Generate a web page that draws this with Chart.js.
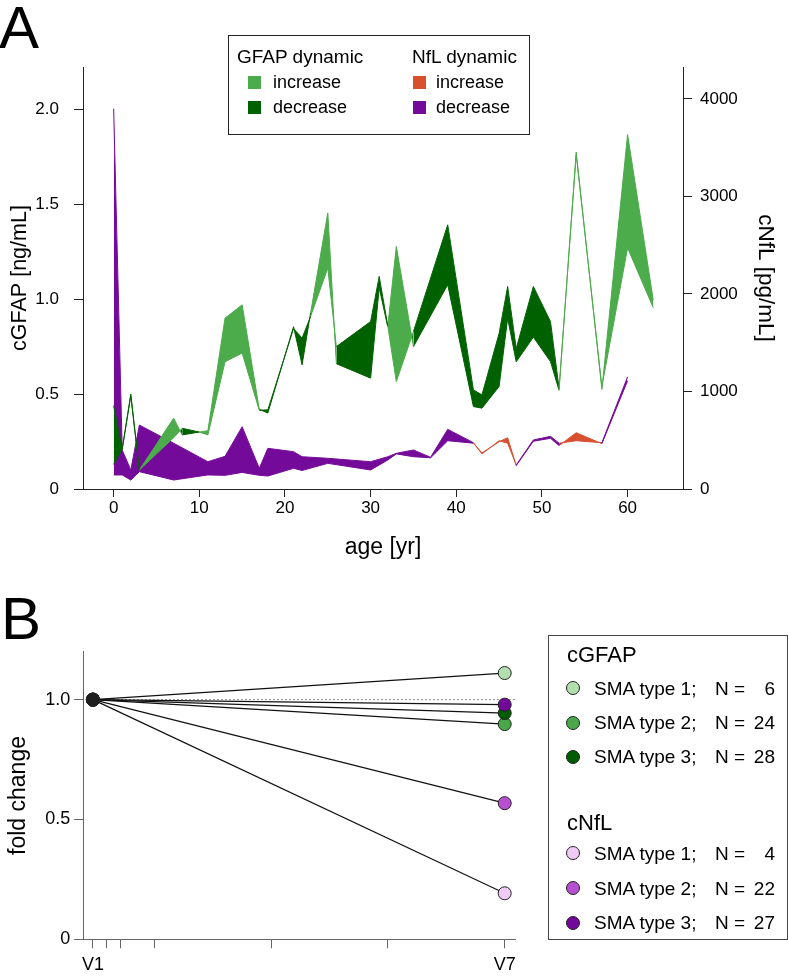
<!DOCTYPE html>
<html><head><meta charset="utf-8">
<script src="https://cdn.jsdelivr.net/npm/chart.js@4/dist/chart.umd.min.js"></script>
<style>
body{margin:0;background:#fff;}
#wrap{position:relative;width:788px;height:976px;font-family:"Liberation Sans",Arial,sans-serif;color:#000;overflow:hidden;background:#fff;}
.abs{position:absolute;white-space:nowrap;}
.t18{font-size:18px;line-height:20px;}
.t19{font-size:19px;line-height:20px;}
.t22{font-size:22px;line-height:24px;}
.sw{position:absolute;width:13px;height:13px;}
.dot{position:absolute;width:12px;height:12px;border-radius:50%;border:1px solid #222;}
</style></head><body><div id="wrap">
<canvas id="cA" width="788" height="590" style="position:absolute;left:0;top:0"></canvas>
<canvas id="cB" width="788" height="386" style="position:absolute;left:0;top:590px"></canvas>

<div class="abs" style="left:-1px;top:-2px;font-size:60px;line-height:60px;">A</div>
<div class="abs" style="left:1px;top:589px;font-size:60px;line-height:60px;">B</div>

<div class="abs" style="left:228px;top:35px;width:300px;height:98px;border:1px solid #222;"></div>
<div class="abs t19" style="left:237px;top:47px">GFAP dynamic</div>
<div class="sw" style="left:248px;top:76px;background:#4cab4a"></div>
<div class="abs t18" style="left:273px;top:72px">increase</div>
<div class="sw" style="left:248px;top:101px;background:#006100"></div>
<div class="abs t18" style="left:273px;top:97px">decrease</div>
<div class="abs t19" style="left:412px;top:47px">NfL dynamic</div>
<div class="sw" style="left:413px;top:76px;background:#d9502f"></div>
<div class="abs t18" style="left:436px;top:72px">increase</div>
<div class="sw" style="left:413px;top:101px;background:#740a99"></div>
<div class="abs t18" style="left:436px;top:97px">decrease</div>

<div class="abs" style="left:548px;top:635px;width:238px;height:303px;border:1px solid #444;"></div>
<div id="legB"></div>
</div>
<script>
// ---------- Panel A data ----------
const gfapAges = [0,1,2,3,7,8,10,11,13,15,17,18,21,22,23,25,26,30,31,32,33,35,39,42,43,45,46,47,49,51,52,54,57,60,63];
const gfapV1 = [0.44,0.21,0.50,0.10,0.27,0.32,0.30,0.285,0.67,0.716,0.415,0.417,0.845,0.795,0.91,1.164,0.75,0.882,1.12,0.86,0.566,0.83,1.392,0.522,0.496,0.82,1.067,0.74,1.067,0.882,0.53,1.76,0.54,1.27,0.955];
const gfapV7 = [0.13,0.21,0.49,0.10,0.373,0.285,0.30,0.307,0.90,0.97,0.42,0.40,0.855,0.654,0.93,1.454,0.66,0.584,1.06,0.855,1.278,0.75,1.076,0.434,0.426,0.54,0.90,0.67,0.80,0.671,0.52,1.775,0.525,1.867,0.995];
const nflAges = [0,1,2,3,7,11,13,15,17,18,21,22,25,30,32,33,35,37,39,42,43,45,46,47,49,51,52,54,57,60];
const nflV1 = [3900,400,195,656,470,280,335,639,212,417,383,331,315,280,331,366,400,325,612,475,360,495,470,246,503,540,470,495,475,1150];
const nflV7 = [144,144,92,178,92,144,140,170,140,133,212,190,263,195,297,360,331,320,495,470,370,485,526,240,490,520,445,577,465,1110];
const ageTicks = [0,10,20,30,40,50,60];
const gfapTicks = [0,0.5,1,1.5,2];
const gfapTickLabels = ['0','0.5','1.0','1.5','2.0'];
const nflTicks = [0,1000,2000,3000,4000];
const nflTickLabels = ['0','1000','2000','3000','4000'];

// ---------- Panel B data ----------
const visitDays = [0,14,28,63,183,303,423];
const visitLabels = ['V1','','','','','','V7'];
const groupLabels = ['SMA type 1;','SMA type 2;','SMA type 3;','SMA type 1;','SMA type 2;','SMA type 3;'];
const groupN = [6,24,28,4,22,27];
const foldV1 = [1,1,1,1,1,1];
const foldV7 = [1.111,0.898,0.944,0.192,0.568,0.979];
const foldTicks = [0,0.5,1.0];
const foldTickLabels = ['0','0.5','1.0'];

const FONT = '"Liberation Sans", Arial, sans-serif';
Chart.defaults.font.family = FONT;
Chart.defaults.color = '#000';

const cIncG = '#4cab4a', cDecG = '#006100', cIncN = '#d9502f', cDecN = '#740a99';
const groupColors = ['#b3dfae','#4aa84a','#005c00','#efcbf6','#b650d2','#73079a'];

const pts = (xs, ys) => xs.map((x,i)=>({x:x, y:ys[i]}));
const fixTicks = arr => (s => { s.ticks = arr.map(v=>({value:v})); });
const segColor = (v1, v7, inc, dec) => ({
  borderColor: c => ((v7[c.p0DataIndex]+v7[c.p1DataIndex]) >= (v1[c.p0DataIndex]+v1[c.p1DataIndex]) ? inc : dec)
});
const band = (ages, vals, axis, seg, fill) => ({
  data:pts(ages, vals), yAxisID:axis, borderWidth:1, pointRadius:0, segment:seg, fill:fill
});

new Chart(document.getElementById('cA'), {
  type:'line',
  data:{datasets:[
    band(gfapAges, gfapV1, 'y', segColor(gfapV1,gfapV7,cIncG,cDecG), false),
    band(gfapAges, gfapV7, 'y', segColor(gfapV1,gfapV7,cIncG,cDecG), {target:0, above:cIncG, below:cDecG}),
    band(nflAges, nflV1, 'y2', segColor(nflV1,nflV7,cIncN,cDecN), false),
    band(nflAges, nflV7, 'y2', segColor(nflV1,nflV7,cIncN,cDecN), {target:2, above:cIncN, below:cDecN})
  ]},
  options:{
    responsive:false, animation:false, events:[],
    layout:{padding:{top:67,left:0,right:0,bottom:0}},
    plugins:{legend:{display:false}, tooltip:{enabled:false}},
    scales:{
      x:{type:'linear', min:-3.58, max:66.47, afterBuildTicks:fixTicks(ageTicks),
         afterFit:s=>{s.height=101;},
         grid:{drawOnChartArea:false, drawTicks:true, tickLength:8, color:'#222'},
         border:{display:true, color:'#222', width:1},
         ticks:{font:{size:17}, padding:1, maxRotation:0, callback:v=>String(v)},
         title:{display:true, text:'age [yr]', font:{size:23}, padding:{top:0,bottom:28.2}}},
      y:{type:'linear', position:'left', min:0, max:2.223, afterBuildTicks:fixTicks(gfapTicks),
         afterFit:s=>{s.width=83;},
         grid:{drawOnChartArea:false, drawTicks:true, tickLength:9, color:'#222'},
         border:{display:true, color:'#222', width:1},
         ticks:{font:{size:17}, padding:15, callback:v=>gfapTickLabels[gfapTicks.indexOf(v)]},
         title:{display:true, text:'cGFAP [ng/mL]', font:{size:21.5}, padding:{top:7,bottom:0}}},
      y2:{type:'linear', position:'right', min:0, max:4328, afterBuildTicks:fixTicks(nflTicks),
         afterFit:s=>{s.width=105;},
         grid:{drawOnChartArea:false, drawTicks:true, tickLength:9, color:'#222'},
         border:{display:true, color:'#222', width:1},
         ticks:{font:{size:17}, padding:8, callback:v=>nflTickLabels[nflTicks.indexOf(v)]},
         title:{display:true, text:'cNfL [pg/mL]', font:{size:22.5}, padding:{top:9.5,bottom:0}}}
    }
  }
});

const bSets = foldV7.map((v,i)=>({
  data:[{x:visitDays[0], y:foldV1[i]},{x:visitDays[visitDays.length-1], y:v}],
  borderColor:'#111', borderWidth:1.2, pointRadius:6.5, pointBorderWidth:1,
  pointBorderColor:'#222', pointBackgroundColor:['#1e1e1e', groupColors[i]],
  fill:false, order:6-i, clip:false
}));
bSets.push({data:[{x:visitDays[0],y:1},{x:434,y:1}], borderColor:'#8a8a8a', borderWidth:1,
  borderDash:[2,2], pointRadius:0, fill:false, order:20, clip:false});

new Chart(document.getElementById('cB'), {
  type:'line',
  data:{datasets:bSets},
  options:{
    responsive:false, animation:false, events:[],
    layout:{padding:{top:61.7,left:0,right:272.6,bottom:0}},
    plugins:{legend:{display:false}, tooltip:{enabled:false}},
    scales:{
      x:{type:'linear', min:-10, max:434, afterBuildTicks:fixTicks(visitDays),
         afterFit:s=>{s.height=36.7;},
         grid:{drawOnChartArea:false, drawTicks:true, tickLength:9, color:'#666'},
         border:{display:true, color:'#666', width:1},
         ticks:{font:{size:18}, padding:6, maxRotation:0, autoSkip:false, callback:v=>visitLabels[visitDays.indexOf(v)]}},
      y:{type:'linear', min:0, max:1.2, afterBuildTicks:fixTicks(foldTicks),
         afterFit:s=>{s.width=83.2;},
         grid:{drawOnChartArea:false, drawTicks:true, tickLength:9, color:'#666'},
         border:{display:true, color:'#666', width:1},
         ticks:{font:{size:18}, padding:4, callback:v=>foldTickLabels[foldTicks.indexOf(v)]},
         title:{display:true, text:'fold change', font:{size:23}, padding:{top:5.2,bottom:0}}}
    }
  }
});

// ---------- Panel B legend (HTML text) ----------
(function(){
  const leg = document.getElementById('legB');
  const rowTop = [678.6,712.9,746.9,843.6,878.6,912.9];
  const rowCy = [688.3,722.7,756.7,853.3,888.3,922.7];
  let html = '';
  html += '<div class="abs t22" style="left:567px;top:642.6px">cGFAP</div>';
  html += '<div class="abs t22" style="left:567px;top:810.9px">cNfL</div>';
  groupLabels.forEach((lab,i)=>{
    html += '<div class="dot" style="left:'+(572.7-7)+'px;top:'+(rowCy[i]-7)+'px;background:'+groupColors[i]+'"></div>';
    html += '<div class="abs t19" style="left:594px;top:'+rowTop[i]+'px">'+lab+'</div>';
    html += '<div class="abs t19" style="left:715px;top:'+rowTop[i]+'px">N =</div>';
    html += '<div class="abs t19" style="right:'+(788-775)+'px;top:'+rowTop[i]+'px;text-align:right">'+groupN[i]+'</div>';
  });
  leg.innerHTML = html;
})();
</script>
</body></html>
